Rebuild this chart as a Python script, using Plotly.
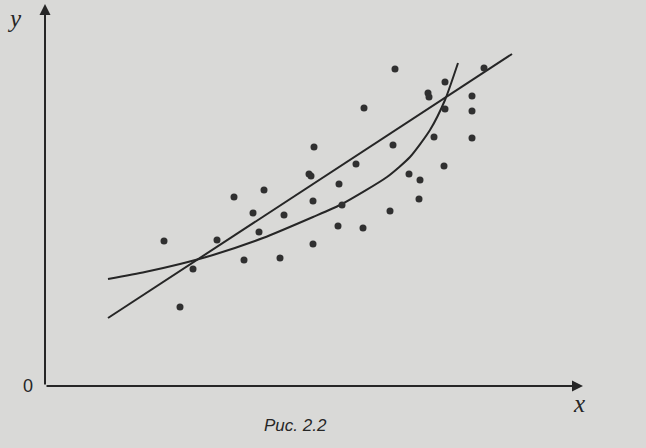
import plotly.graph_objects as go

# Data in chart units (origin at the axes' corner)
pts_x = [11.9, 13.5, 14.8, 17.2, 18.9, 19.9, 20.8, 21.4, 21.9, 23.5, 23.9,
         26.4, 26.6, 26.9, 26.8, 26.8, 29.4, 29.7, 29.3, 31.1, 31.8, 31.9,
         34.5, 34.8, 35.0, 36.4, 37.5, 37.4, 38.9, 39.9, 38.3, 38.4, 40.0,
         40.0, 42.7, 42.7, 42.7, 43.9]
pts_y = [14.5, 7.9, 11.7, 14.6, 18.9, 12.6, 17.3, 15.4, 19.6, 12.8, 17.1,
         21.2, 21.0, 23.9, 18.5, 14.2, 20.2, 18.1, 16.0, 22.2, 15.8, 27.8,
         17.5, 24.1, 31.7, 21.2, 20.6, 18.7, 24.9, 22.0, 29.3, 28.9, 30.4,
         27.7, 29.0, 27.5, 24.8, 31.8]

line_x = [6.3, 46.7]
line_y = [6.8, 33.2]

curve_x = [6.3, 10.0, 13.5, 16.8, 21.8, 26.8, 29.7, 34.2, 36.5, 38.5, 40.0, 41.3]
curve_y = [10.7, 11.4, 12.2, 13.1, 14.8, 16.9, 18.2, 20.9, 22.9, 25.6, 28.6, 32.3]

x_label, y_label, origin_label = "x", "y", "0"
caption = "Рис. 2.2"

ink = "#262626"
bg = "#d9d9d7"

fig = go.Figure()
fig.add_trace(go.Scatter(x=line_x, y=line_y, mode="lines",
                         line=dict(color=ink, width=2), hoverinfo="skip"))
fig.add_trace(go.Scatter(x=curve_x, y=curve_y, mode="lines",
                         line=dict(color=ink, width=2, shape="spline", smoothing=0.6),
                         hoverinfo="skip"))
fig.add_trace(go.Scatter(x=pts_x, y=pts_y, mode="markers",
                         marker=dict(color="#303030", size=7, line=dict(width=0))))

# axes with arrows
fig.add_annotation(x=53.8, y=0, ax=0, ay=0, xref="x", yref="y", axref="x", ayref="y",
                   showarrow=True, arrowhead=2, arrowsize=1.1, arrowwidth=2,
                   arrowcolor=ink, text="")
fig.add_annotation(x=0, y=38.2, ax=0, ay=0, xref="x", yref="y", axref="x", ayref="y",
                   showarrow=True, arrowhead=2, arrowsize=1.1, arrowwidth=2,
                   arrowcolor=ink, text="")

fig.add_annotation(x=53.4, y=-1.7, text="<i>" + x_label + "</i>", showarrow=False,
                   font=dict(family="Liberation Serif", size=25, color=ink),
                   xanchor="center", yanchor="middle")
fig.add_annotation(x=-3.1, y=36.8, text="<i>" + y_label + "</i>", showarrow=False,
                   font=dict(family="Liberation Serif", size=25, color=ink),
                   xanchor="center", yanchor="middle")
fig.add_annotation(x=-1.7, y=0, text=origin_label, showarrow=False,
                   font=dict(family="Liberation Sans", size=18, color=ink),
                   xanchor="center", yanchor="middle")
fig.add_annotation(x=21.7, y=-3.9, text="<i>" + caption + "</i>", showarrow=False,
                   font=dict(family="Liberation Sans", size=17, color=ink),
                   xanchor="left", yanchor="middle")

fig.update_layout(
    width=646, height=448,
    margin=dict(l=0, r=0, t=0, b=0),
    paper_bgcolor=bg, plot_bgcolor=bg,
    showlegend=False,
    xaxis=dict(range=[-4.5, 60.1], visible=False, fixedrange=True),
    yaxis=dict(range=[-6.2, 38.6], visible=False, fixedrange=True),
)

fig.write_html("out.html", config={"displayModeBar": False},
               post_script="document.body.style.margin='0';"
                           "document.body.style.overflow='hidden';"
                           f"document.body.style.background='{bg}';")
